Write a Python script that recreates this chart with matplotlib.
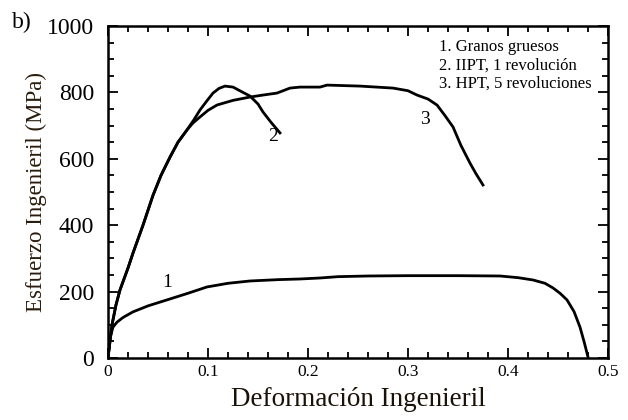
import matplotlib
matplotlib.use("Agg")
import matplotlib.pyplot as plt
from matplotlib.ticker import MultipleLocator

plt.rcParams['font.family'] = ['Liberation Serif', 'DejaVu Serif']

# Curve 1: Granos gruesos
x1 = [0.0, 0.002, 0.005, 0.009, 0.015, 0.025, 0.040, 0.059, 0.080, 0.099, 0.120, 0.142, 0.170,
      0.192, 0.212, 0.230, 0.260, 0.300, 0.350, 0.392, 0.410, 0.425, 0.437, 0.445, 0.452,
      0.459, 0.466, 0.472, 0.476, 0.480]
y1 = [0, 60, 93, 108, 122, 139, 157, 175, 195, 214, 225, 232, 236,
      238, 241, 245, 247, 248, 248, 247, 242, 235, 225, 211, 195,
      175, 140, 93, 50, 3]

# Curve 2: IIPT, 1 revolución
x2 = [0.0, 0.004, 0.008, 0.012, 0.020, 0.025, 0.035, 0.045, 0.053, 0.062, 0.070, 0.079,
      0.086, 0.092, 0.099, 0.105, 0.111, 0.117, 0.125, 0.135, 0.142, 0.150, 0.155, 0.163, 0.172]
y2 = [0, 100, 160, 205, 271, 316, 400, 490, 550, 605, 650, 687,
      718, 747, 775, 798, 812, 819, 816, 800, 789, 765, 741, 710, 678]

# Curve 3: HPT, 5 revoluciones
x3 = [0.0, 0.004, 0.008, 0.012, 0.020, 0.025, 0.035, 0.045, 0.053, 0.062, 0.070, 0.079,
      0.085, 0.092, 0.100, 0.109, 0.125, 0.142, 0.155, 0.169, 0.182, 0.192, 0.212, 0.219, 0.252,
      0.285, 0.300, 0.309, 0.320, 0.329, 0.337, 0.345, 0.353, 0.362, 0.368, 0.375]
y3 = [0, 100, 160, 205, 271, 316, 400, 490, 550, 605, 650, 687,
      708, 726, 746, 762, 776, 786, 792, 798, 813, 816, 816, 822, 819,
      813, 805, 792, 780, 762, 730, 696, 640, 587, 555, 521]

legend_lines = ["1. Granos gruesos", "2. IIPT, 1 revolución", "3. HPT, 5 revoluciones"]
curve_labels = ["1", "2", "3"]
label_pos = [(0.059, 226), (0.165, 666), (0.317, 717)]

xticks = [0, 0.1, 0.2, 0.3, 0.4, 0.5]
xticklabels = ["0", "0.1", "0.2", "0.3", "0.4", "0.5"]
yticks = [0, 200, 400, 600, 800, 1000]

fig = plt.figure(figsize=(6.28, 4.2), dpi=100)
ax = fig.add_axes([108/628, 1-358/420, 500/628, 332/420])

for xs, ys in [(x1, y1), (x2, y2), (x3, y3)]:
    ax.plot(xs, ys, color='black', lw=2.0, solid_joinstyle='round')

ax.set_xlim(0, 0.5)
ax.set_ylim(0, 1000)
ax.set_xticks(xticks)
ax.set_xticklabels(xticklabels, fontsize=12.5)
ax.set_yticks(yticks)
ax.set_yticklabels([str(v) for v in yticks], fontsize=17)
ax.xaxis.set_minor_locator(MultipleLocator(0.02))
ax.yaxis.set_minor_locator(MultipleLocator(50))
ax.tick_params(which='both', direction='in', top=True, right=True, width=1.3, color='black')
ax.tick_params(which='major', length=7)
ax.tick_params(axis='x', which='major', pad=4)
ax.tick_params(axis='y', which='major', pad=10)
ax.tick_params(which='minor', length=4)
for s in ax.spines.values():
    s.set_linewidth(1.8)

ax.set_xlabel("Deformación Ingenieril", fontsize=19.5, color='#1a1208', labelpad=5)
ax.set_ylabel("Esfuerzo Ingenieril (MPa)", fontsize=16.5, color='#2a1c0c', labelpad=0)

for t, (lx, ly) in zip(curve_labels, label_pos):
    ax.text(lx, ly, t, fontsize=14, ha='center', va='center')

for i, t in enumerate(legend_lines):
    fig.text(439/628, 1 - (47 + 18.5*i)/420, t, fontsize=12, ha='left', va='center')

fig.text(12/628, 1 - 22/420, "b)", fontsize=17, ha='left', va='center')

fig.savefig("out.png", dpi=100)
